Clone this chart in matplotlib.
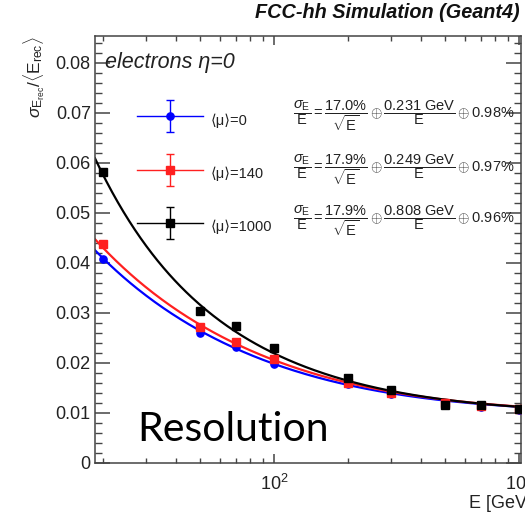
import numpy as np
import matplotlib
matplotlib.use("Agg")
import matplotlib.pyplot as plt
from matplotlib.lines import Line2D
from matplotlib.container import ErrorbarContainer
from matplotlib.legend_handler import HandlerErrorbar
from matplotlib.ticker import FixedLocator, NullFormatter, FuncFormatter, MultipleLocator, LogLocator

plt.rcParams['font.family'] = ['Liberation Sans', 'DejaVu Sans']
plt.rcParams['mathtext.fontset'] = 'custom'
plt.rcParams['mathtext.rm'] = 'Liberation Sans'
plt.rcParams['mathtext.it'] = 'Liberation Sans:italic'
plt.rcParams['mathtext.bf'] = 'Liberation Sans:bold'

# data
energy = [20, 50, 70, 100, 200, 300, 500, 700, 1000]
res_mu0 = [0.0407, 0.0259, 0.0231, 0.0197, 0.0157, 0.0137, 0.0118, 0.0112, 0.0105]
res_mu140 = [0.0437, 0.0271, 0.0241, 0.0207, 0.0160, 0.0139, 0.0120, 0.0114, 0.0107]
res_mu1000 = [0.0582, 0.0304, 0.0274, 0.0229, 0.0169, 0.0145, 0.0115, 0.0115, 0.0107]

# fit parameters from the legend: stochastic, noise [GeV], constant
fit_a = [0.170, 0.179, 0.179]
fit_b = [0.231, 0.249, 0.808]
fit_c = [0.0098, 0.0097, 0.0096]

labels = ['⟨μ⟩=0', '⟨μ⟩=140', '⟨μ⟩=1000']
colors = ['#0000ff', '#ff2020', '#000000']
markers = ['o', 's', 's']
msizes = [5.2, 5.6, 5.6]

xmin, xmax = 18.6, 1019
ymin, ymax = 0.0, 0.0853

fig = plt.figure(figsize=(5.25, 5.14), dpi=100)
ax = fig.add_axes([95/525, (514-462.7)/514, 426/525, 426.7/514])

handles = []
E = np.logspace(np.log10(xmin), np.log10(xmax), 300)
for i, res in enumerate([res_mu0, res_mu140, res_mu1000]):
    fit = np.sqrt((fit_a[i]/np.sqrt(E))**2 + (fit_b[i]/E)**2 + fit_c[i]**2)
    ax.plot(E, fit, color=colors[i], lw=1.6, zorder=2)
    ax.plot(energy, res, ls='none', marker=markers[i], ms=msizes[i],
            color=colors[i], zorder=3)
    # proxy for the legend entry (vertical error bar + marker + horizontal line)
    eb = ax.errorbar([np.nan], [np.nan], yerr=[0.001], ls='none',
                     marker=markers[i], ms=msizes[i], color=colors[i],
                     elinewidth=1, capsize=3, capthick=1)
    hline = Line2D([], [], color=colors[i], lw=1)
    handles.append((hline, eb))

ax.set_xscale('log')
ax.set_xlim(xmin, xmax)
ax.set_ylim(ymin, ymax)

ax.xaxis.set_major_locator(FixedLocator([100, 1000]))
ax.xaxis.set_minor_locator(LogLocator(base=10, subs=np.arange(2, 10)))
ax.xaxis.set_minor_formatter(NullFormatter())
ax.yaxis.set_major_locator(MultipleLocator(0.01))
ax.yaxis.set_minor_locator(MultipleLocator(0.002))
ax.yaxis.set_major_formatter(FuncFormatter(lambda v, p: '0' if abs(v) < 1e-9 else f'{v:.2f}'))

for s in ax.spines.values():
    s.set_color('#444444')
    s.set_linewidth(1.1)
ax.tick_params(which='both', direction='in', top=True, right=True,
               color='#444444', labelcolor='#222222', labelsize=13)
ax.tick_params(axis='y', which='major', length=10.5, width=1.1, pad=3)
ax.tick_params(axis='y', which='minor', length=5, width=1)
ax.tick_params(axis='x', which='major', length=6.5, width=1.1, pad=8)
ax.tick_params(axis='x', which='minor', length=3.6, width=1)

ax.set_xlabel('E [GeV]', fontsize=13, color='#222222', loc='right')
ax.xaxis.set_label_coords(1.025, -0.075)
ax.set_ylabel(r'$\sigma_{\mathrm{E_{rec}}}/\langle\mathrm{E_{rec}}\rangle$',
              fontsize=12.5, color='#222222', loc='top')
ax.yaxis.set_label_coords(-0.112, 1.0)

fig.text(520/525, 1 - 12/514, 'FCC-hh Simulation (Geant4)', ha='right', va='center',
         fontsize=14.3, fontweight='bold', fontstyle='italic', color='#111111')
ax.text(0.023, 0.9375, 'electrons η=0', transform=ax.transAxes, ha='left',
        va='center', fontsize=15.5, fontstyle='italic', color='#222222')

leg = ax.legend(handles, labels, loc='upper left', bbox_to_anchor=(0.098, 0.832),
                frameon=False, fontsize=10.5, numpoints=1, borderpad=0, borderaxespad=0,
                handlelength=4.52, handleheight=2.26, labelspacing=1.945, handletextpad=0.54,
                handler_map={ErrorbarContainer: HandlerErrorbar(yerr_size=1.10)})
for t in leg.get_texts():
    t.set_color('#222222')

formulas = [
    r'$\dfrac{\sigma_{\mathrm{E}}}{\mathrm{E}} = \dfrac{17.0\%}{\sqrt{\mathrm{E}}} \oplus \dfrac{0.231\ \mathrm{GeV}}{\mathrm{E}} \oplus 0.98\%$',
    r'$\dfrac{\sigma_{\mathrm{E}}}{\mathrm{E}} = \dfrac{17.9\%}{\sqrt{\mathrm{E}}} \oplus \dfrac{0.249\ \mathrm{GeV}}{\mathrm{E}} \oplus 0.97\%$',
    r'$\dfrac{\sigma_{\mathrm{E}}}{\mathrm{E}} = \dfrac{17.9\%}{\sqrt{\mathrm{E}}} \oplus \dfrac{0.808\ \mathrm{GeV}}{\mathrm{E}} \oplus 0.96\%$',
]
rows_y = [0.8125, 0.688, 0.5665]
for f, yy in zip(formulas, rows_y):
    ax.text(0.465, yy, f, transform=ax.transAxes, ha='left', va='center',
            fontsize=10.5, color='#222222')

ax.text(0.0986, 0.0516, 'Resolution', transform=ax.transAxes, ha='left',
        va='baseline', fontsize=29.5, family=['Lato', 'DejaVu Sans'], color='black')

fig.savefig('out.png', dpi=100)
